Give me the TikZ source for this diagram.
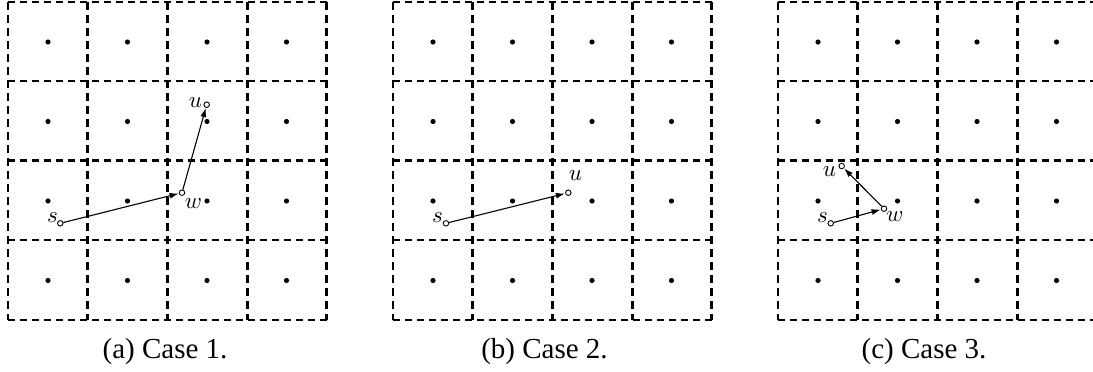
\documentclass[tikz,border=0pt]{standalone}
\usepackage{fontspec}
\newfontfamily\capfont{Liberation Serif}
\usetikzlibrary{arrows.meta}
\begin{document}
\begin{tikzpicture}[x=1pt,y=-1pt,
  gridh/.style={line width=2.2pt,dash pattern=on 7pt off 5pt},
  gridv/.style={line width=2.8pt,dash pattern=on 8pt off 5pt},
  cdot/.style={circle,fill=black,inner sep=0pt,minimum size=5.2pt},
  pt/.style={circle,draw=black,fill=white,line width=0.9pt,inner sep=0pt,minimum size=5.5pt},
  arr/.style={line width=1.1pt,-{Latex[length=9pt,width=6pt]},shorten >=0.3pt},
  lbl/.style={inner sep=0pt,font=\normalsize,scale=2.3},
  captext/.style={inner sep=0pt,anchor=base,font=\capfont\fontsize{29}{34}\selectfont}]
\useasboundingbox (0,0) rectangle (1093,372);
\begin{scope}
\clip (0,0) rectangle (1093,372);
\foreach \xo in {8,393,778}{
  \foreach \yy in {2,81,160.5,240,320}
    \draw[gridh] (\xo,\yy) -- ({\xo+319},\yy);
  \foreach \i in {0,...,4}
    \draw[gridv] ({\xo+79.7*\i},2) -- ({\xo+79.7*\i},320);
  \foreach \i in {0,...,3}
    \foreach \j in {0,...,3}
      \node[cdot] at ({\xo+40+79.5*\i},{42+79.5*\j}) {};
}
\end{scope}
% (a)
\node[pt] (sa) at (60.3,223.3) {};
\node[pt] (wa) at (182,192.7) {};
\node[pt] (ua) at (206.7,104.7) {};
\draw[arr] (sa) -- (wa);
\draw[arr] (wa) -- (ua);
\node[lbl] (sal) at (52.5,217.5) {$s$};
\node[lbl] (wal) at (193.5,203.5) {$w$};
\node[lbl] (ual) at (195.5,102.5) {$u$};
% (b)
\node[pt] (sb) at (446,223.3) {};
\node[pt] (ub) at (568.3,192.7) {};
\draw[arr] (sb) -- (ub);
\node[lbl] (sbl) at (437.5,217.5) {$s$};
\node[lbl] (ubl) at (575.5,176) {$u$};
% (c)
\node[pt] (sc) at (830.7,223.3) {};
\node[pt] (wc) at (884,208.7) {};
\node[pt] (uc) at (841.7,166) {};
\draw[arr] (sc) -- (wc);
\draw[arr] (wc) -- (uc);
\node[lbl] (scl) at (822.5,217.5) {$s$};
\node[lbl] (wcl) at (895,217) {$w$};
\node[lbl] (ucl) at (829.5,171.5) {$u$};
% captions
\node[captext] (capa) at (165,358) {(a) Case 1.};
\node[captext] (capb) at (544.5,358) {(b) Case 2.};
\node[captext] (capc) at (924,358) {(c) Case 3.};
\end{tikzpicture}
\end{document}
